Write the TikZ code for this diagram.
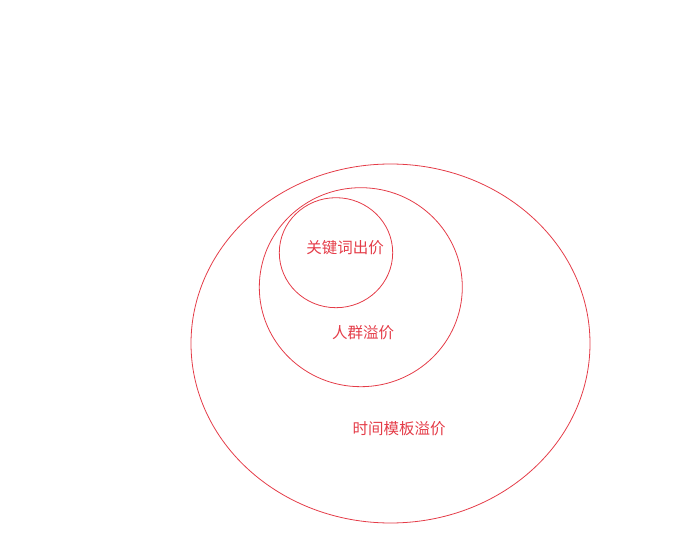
\documentclass[tikz,border=0pt]{standalone}
\usepackage{fontspec}
\newfontfamily\cjk{Noto Sans CJK SC}[Scale=1]
\definecolor{vred}{RGB}{228,60,72}
\begin{document}
\begin{tikzpicture}[x=1pt,y=-1pt,
  ring/.style={draw=vred,line width=0.8pt},
  lbl/.style={text=vred,font=\cjk\fontsize{15.5}{18}\selectfont,inner sep=0pt}]
\useasboundingbox (0,0) rectangle (675,545);
\draw[ring] (390.5,343.5) ellipse [x radius=199.5, y radius=179.5];
\draw[ring] (360.8,287.2) ellipse [x radius=101.5, y radius=99.5];
\draw[ring] (336,252.7) ellipse [x radius=56.7, y radius=55];
\node[lbl] (kw) at (345,248) {关键词出价};
\node[lbl] (rq) at (363,332.5) {人群溢价};
\node[lbl] (sj) at (399,429) {时间模板溢价};
\end{tikzpicture}
\end{document}
